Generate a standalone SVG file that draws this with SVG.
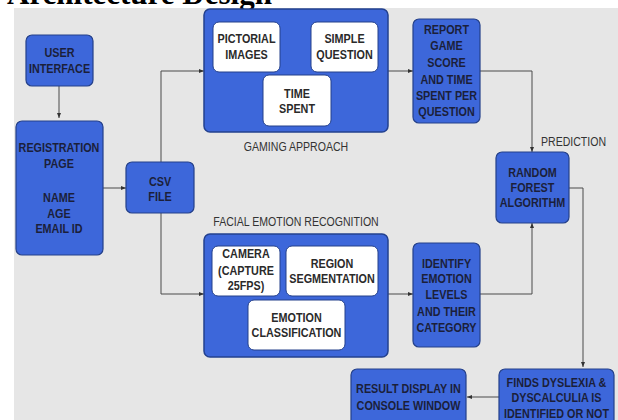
<svg xmlns="http://www.w3.org/2000/svg" width="618" height="420" viewBox="0 0 618 420">
<style>
.blue{fill:#3d67da;stroke:#24408a;stroke-width:1.2}
.outer{fill:#3d67da;stroke:#23418f;stroke-width:1.5}
.white{fill:#ffffff;stroke:#24408a;stroke-width:1}
.t{font-family:"Liberation Sans",Arial,sans-serif;font-weight:bold;font-size:13.5px;fill:#1b1f3a;text-anchor:middle}
.tw{font-family:"Liberation Sans",Arial,sans-serif;font-weight:bold;font-size:13.5px;fill:#2a2a2a;text-anchor:middle}
.lbl{font-family:"Liberation Sans",Arial,sans-serif;font-size:13.2px;fill:#333333}
.ln{fill:none;stroke:#4a4a4a;stroke-width:1}
</style>
<defs>
<marker id="ah" viewBox="0 0 10 10" refX="10" refY="5" markerWidth="5" markerHeight="5" orient="auto" markerUnits="userSpaceOnUse">
<path d="M0,1 L10,5 L0,9 z" fill="#333333"/>
</marker>
</defs>
<rect x="0" y="0" width="618" height="420" fill="#ffffff"/>
<rect x="14" y="8" width="604" height="412" fill="#e6e6e6"/>
<text x="7" y="4" font-family="'Liberation Serif',serif" font-weight="bold" font-size="31" fill="#000">Architecture Design</text>

<g id="connectors">
<path class="ln" d="M59,86 V118" marker-end="url(#ah)"/>
<path class="ln" d="M103,188 H126" marker-end="url(#ah)"/>
<path class="ln" d="M161,162 V71 H204" marker-end="url(#ah)"/>
<path class="ln" d="M161,213 V294 H204" marker-end="url(#ah)"/>
<path class="ln" d="M388,71 H413" marker-end="url(#ah)"/>
<path class="ln" d="M388,294 H413" marker-end="url(#ah)"/>
<path class="ln" d="M480,71 H532 V152" marker-end="url(#ah)"/>
<path class="ln" d="M480,294 H532 V223" marker-end="url(#ah)"/>
<path class="ln" d="M569,188 H583 V367" marker-end="url(#ah)"/>
<path class="ln" d="M499,397 H467" marker-end="url(#ah)"/>
</g>

<g id="user-interface">
<rect class="blue" x="26" y="35" width="67" height="51" rx="6"/>
<text class="t" transform="translate(59.5,57) scale(0.8,1)">USER</text>
<text class="t" transform="translate(59.5,73) scale(0.8,1)">INTERFACE</text>
</g>

<g id="registration">
<rect class="blue" x="16" y="121" width="87" height="134" rx="6"/>
<text class="t" transform="translate(59,152) scale(0.8,1)">REGISTRATION</text>
<text class="t" transform="translate(59,168) scale(0.8,1)">PAGE</text>
<text class="t" transform="translate(59,202) scale(0.8,1)">NAME</text>
<text class="t" transform="translate(59,218) scale(0.8,1)">AGE</text>
<text class="t" transform="translate(59,233) scale(0.8,1)">EMAIL ID</text>
</g>

<g id="csv-file">
<rect class="blue" x="126" y="162" width="68" height="51" rx="6"/>
<text class="t" transform="translate(160,186) scale(0.8,1)">CSV</text>
<text class="t" transform="translate(160,201) scale(0.8,1)">FILE</text>
</g>

<g id="gaming-approach">
<rect class="outer" x="204" y="9" width="184" height="123" rx="6"/>
<rect class="white" x="213" y="22" width="67" height="50" rx="6"/>
<text class="tw" transform="translate(246.5,43) scale(0.8,1)">PICTORIAL</text>
<text class="tw" transform="translate(246.5,59) scale(0.8,1)">IMAGES</text>
<rect class="white" x="311" y="22" width="67" height="50" rx="6"/>
<text class="tw" transform="translate(344.5,43) scale(0.8,1)">SIMPLE</text>
<text class="tw" transform="translate(344.5,59) scale(0.8,1)">QUESTION</text>
<rect class="white" x="263" y="75" width="68" height="51" rx="6"/>
<text class="tw" transform="translate(297,98) scale(0.8,1)">TIME</text>
<text class="tw" transform="translate(297,113) scale(0.8,1)">SPENT</text>
<text class="lbl" text-anchor="middle" transform="translate(296,151) scale(0.8,1)">GAMING APPROACH</text>
</g>

<g id="report">
<rect class="blue" x="413" y="19" width="67" height="104" rx="6"/>
<text class="t" transform="translate(446.5,34) scale(0.8,1)">REPORT</text>
<text class="t" transform="translate(446.5,50) scale(0.8,1)">GAME</text>
<text class="t" transform="translate(446.5,67) scale(0.8,1)">SCORE</text>
<text class="t" transform="translate(446.5,84) scale(0.8,1)">AND TIME</text>
<text class="t" transform="translate(446.5,100) scale(0.8,1)">SPENT PER</text>
<text class="t" transform="translate(446.5,116) scale(0.8,1)">QUESTION</text>
</g>

<g id="random-forest">
<text class="lbl" transform="translate(541,146) scale(0.8,1)">PREDICTION</text>
<rect class="blue" x="496" y="152" width="73" height="71" rx="6"/>
<text class="t" transform="translate(532.5,177) scale(0.8,1)">RANDOM</text>
<text class="t" transform="translate(532.5,192) scale(0.8,1)">FOREST</text>
<text class="t" transform="translate(532.5,207) scale(0.8,1)">ALGORITHM</text>
</g>

<g id="facial-emotion-recognition">
<text class="lbl" text-anchor="middle" transform="translate(296,226) scale(0.8,1)">FACIAL EMOTION RECOGNITION</text>
<rect class="outer" x="204" y="234" width="184" height="123" rx="6"/>
<rect class="white" x="212" y="246" width="68" height="50" rx="6"/>
<text class="tw" transform="translate(246,258) scale(0.8,1)">CAMERA</text>
<text class="tw" transform="translate(246,275) scale(0.8,1)">(CAPTURE</text>
<text class="tw" transform="translate(246,290) scale(0.8,1)">25FPS)</text>
<rect class="white" x="286" y="246" width="92" height="50" rx="6"/>
<text class="tw" transform="translate(332,268) scale(0.8,1)">REGION</text>
<text class="tw" transform="translate(332,283) scale(0.8,1)">SEGMENTATION</text>
<rect class="white" x="248" y="300" width="97" height="50" rx="6"/>
<text class="tw" transform="translate(296.5,322) scale(0.8,1)">EMOTION</text>
<text class="tw" transform="translate(296.5,337) scale(0.8,1)">CLASSIFICATION</text>
</g>

<g id="identify-emotion">
<rect class="blue" x="413" y="243" width="67" height="104" rx="6"/>
<text class="t" transform="translate(446.5,268) scale(0.8,1)">IDENTIFY</text>
<text class="t" transform="translate(446.5,283) scale(0.8,1)">EMOTION</text>
<text class="t" transform="translate(446.5,299) scale(0.8,1)">LEVELS</text>
<text class="t" transform="translate(446.5,316) scale(0.8,1)">AND THEIR</text>
<text class="t" transform="translate(446.5,332) scale(0.8,1)">CATEGORY</text>
</g>

<g id="finds-dyslexia">
<rect class="blue" x="499" y="369" width="115" height="60" rx="6"/>
<text class="t" transform="translate(556.5,387) scale(0.8,1)">FINDS DYSLEXIA &amp;</text>
<text class="t" transform="translate(556.5,402) scale(0.8,1)">DYSCALCULIA IS</text>
<text class="t" transform="translate(556.5,418) scale(0.8,1)">IDENTIFIED OR NOT</text>
</g>

<g id="result-display">
<rect class="blue" x="351" y="369" width="115" height="60" rx="6"/>
<text class="t" transform="translate(408.5,393) scale(0.8,1)">RESULT DISPLAY IN</text>
<text class="t" transform="translate(408.5,410) scale(0.8,1)">CONSOLE WINDOW</text>
</g>
</svg>
